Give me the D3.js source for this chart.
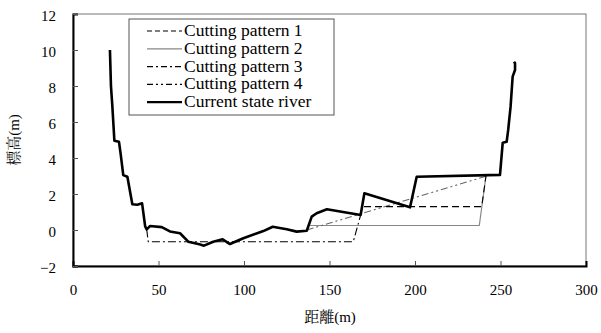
<!DOCTYPE html>
<html>
<head>
  <meta charset='UTF-8'>
  <title>Cutting pattern</title>
  <style>
    body { margin: 0; background: #fff; }
  </style>
</head>
<body>
<div id='chart'></div>
<script src='https://d3js.org/d3.v7.min.js'></script>
<script>
  // 現況河道
  var riverX = [21.6, 22.2, 23.0, 24.2, 26.9, 27.9, 29.4, 31.8, 34.7, 37.6, 40.4, 42.2, 43.1, 45.0, 51.9, 56.7, 62.6, 67.4, 73.9, 76.6,
    82.0, 87.5, 91.8, 99.6, 111.3, 116.8, 125.0, 130.8, 136.7, 139.6, 142.5, 148.5, 168.2, 170.4, 197.1, 201.0,
    249.7, 251.3, 253.6, 254.5, 255.9, 257.1, 258.5, 258.5, 257.9]
  var riverY = [10.0, 8.0, 6.9, 4.96, 4.9, 4.2, 3.05, 2.96, 1.43, 1.4, 1.48, 0.2, 0.03, 0.22, 0.16, -0.08, -0.18, -0.65, -0.79, -0.87,
    -0.65, -0.52, -0.78, -0.46, -0.06, 0.18, 0.04, -0.09, -0.04, 0.74, 0.93, 1.15, 0.83, 2.04, 1.26, 2.96,
    3.06, 4.85, 4.9, 5.56, 6.85, 8.52, 8.89, 9.26, 9.35]
  // 掘削パターン
  var p1X = [170.2, 239.0, 241.5], p1Y = [1.3, 1.3, 3.0]
  var p2X = [137.5, 237.6, 241.5], p2Y = [0.25, 0.25, 3.0]
  var p3X = [136.7, 242.0], p3Y = [0.0, 3.0]
  var p4X = [43.1, 44.0, 163.9, 168.2], p4Y = [0.03, -0.65, -0.65, 0.83]

  var xTicks = [0, 50, 100, 150, 200, 250, 300]
  var yTicks = [-2, 0, 2, 4, 6, 8, 10, 12]
  var legendLabels = ['Cutting pattern 1', 'Cutting pattern 2', 'Cutting pattern 3', 'Cutting pattern 4', 'Current state river']

  var width = 601, height = 333
  var m = {left: 73, right: 15, top: 14, bottom: 67}
  var serif = 'Liberation Serif'
  var cjk = 'Noto Serif CJK JP'

  var svg = d3.select('#chart').append('svg')
    .attr('width', width).attr('height', height)

  var x = d3.scaleLinear().domain([0, 300]).range([m.left, width - m.right])
  var y = d3.scaleLinear().domain([-2, 12]).range([height - m.bottom, m.top])

  // 枠（上・右）
  svg.append('rect')
    .attr('x', x(0)).attr('y', y(12))
    .attr('width', x(300) - x(0)).attr('height', y(-2) - y(12))
    .style('fill', 'none').style('stroke', '#777').style('stroke-width', 1)

  // 軸
  var xAxis = svg.append('g').attr('transform', 'translate(0,' + y(-2) + ')')
    .call(d3.axisBottom(x).tickValues(xTicks).tickSize(-5).tickPadding(18))
  var yAxis = svg.append('g').attr('transform', 'translate(' + x(0) + ',0)')
    .call(d3.axisLeft(y).tickValues(yTicks).tickSize(-5).tickPadding(17))
  ;[xAxis, yAxis].forEach(function (g) {
    g.attr('font-family', serif).attr('font-size', 15)
    g.select('.domain').style('stroke', '#000').style('stroke-width', 2)
    g.selectAll('.tick line').style('stroke', '#555')
    g.selectAll('.tick text').style('fill', '#000')
  })
  yAxis.selectAll('.tick text').attr('dy', '0.42em')
  xAxis.selectAll('.tick').filter(function (d) { return d === 0 || d === 300 }).select('line').remove()

  var line = d3.line().x(function (d) { return x(d[0]) }).y(function (d) { return y(d[1]) })
  var zip = function (xs, ys) { return xs.map(function (v, i) { return [v, ys[i]] }) }

  var series = [
    {pts: zip(p2X, p2Y), color: '#888', w: 1.2, dash: null},
    {pts: zip(p3X, p3Y), color: '#666', w: 1.1, dash: '7,3,2,3,2,3'},
    {pts: zip(p1X, p1Y), color: '#000', w: 1.1, dash: '7,4'},
    {pts: zip(p4X, p4Y), color: '#000', w: 1.1, dash: '8,3,2,3'},
    {pts: zip(riverX, riverY), color: '#000', w: 2.6, dash: null}
  ]
  series.forEach(function (s) {
    svg.append('path')
      .attr('d', line(s.pts))
      .style('fill', 'none')
      .style('stroke', s.color)
      .style('stroke-width', s.w)
      .style('stroke-linejoin', 'round')
      .style('stroke-dasharray', s.dash)
  })

  // 凡例
  var legendStyles = [
    {color: '#000', w: 1.1, dash: '5,3'},
    {color: '#888', w: 1.2, dash: null},
    {color: '#000', w: 1.1, dash: '6,3,2,3'},
    {color: '#000', w: 1.1, dash: '6,3,2,3,2,3'},
    {color: '#000', w: 2.2, dash: null}
  ]
  var lg = svg.append('g').attr('transform', 'translate(129,19)')
  lg.append('rect').attr('width', 205).attr('height', 96)
    .style('fill', '#fff').style('stroke', '#555').style('stroke-width', 1)
  legendLabels.forEach(function (t, i) {
    var cy = 12 + i * 17.8
    lg.append('line').attr('x1', 18).attr('x2', 53).attr('y1', cy).attr('y2', cy)
      .style('stroke', legendStyles[i].color).style('stroke-width', legendStyles[i].w)
      .style('stroke-dasharray', legendStyles[i].dash)
    lg.append('text').attr('x', 55).attr('y', cy + 5)
      .attr('font-family', serif).attr('font-size', 17.5).text(t)
  })

  // 軸タイトル
  var yt = svg.append('text')
    .attr('transform', 'translate(19,140) rotate(-90)')
    .attr('text-anchor', 'middle')
    .attr('font-size', 15)
  yt.append('tspan').attr('font-family', cjk).text('標高')
  yt.append('tspan').attr('font-family', serif).text('(m)')
  var xt = svg.append('text')
    .attr('x', 330).attr('y', 322)
    .attr('text-anchor', 'middle')
    .attr('font-size', 15)
  xt.append('tspan').attr('font-family', cjk).text('距離')
  xt.append('tspan').attr('font-family', serif).text('(m)')
</script>
</body>
</html>
